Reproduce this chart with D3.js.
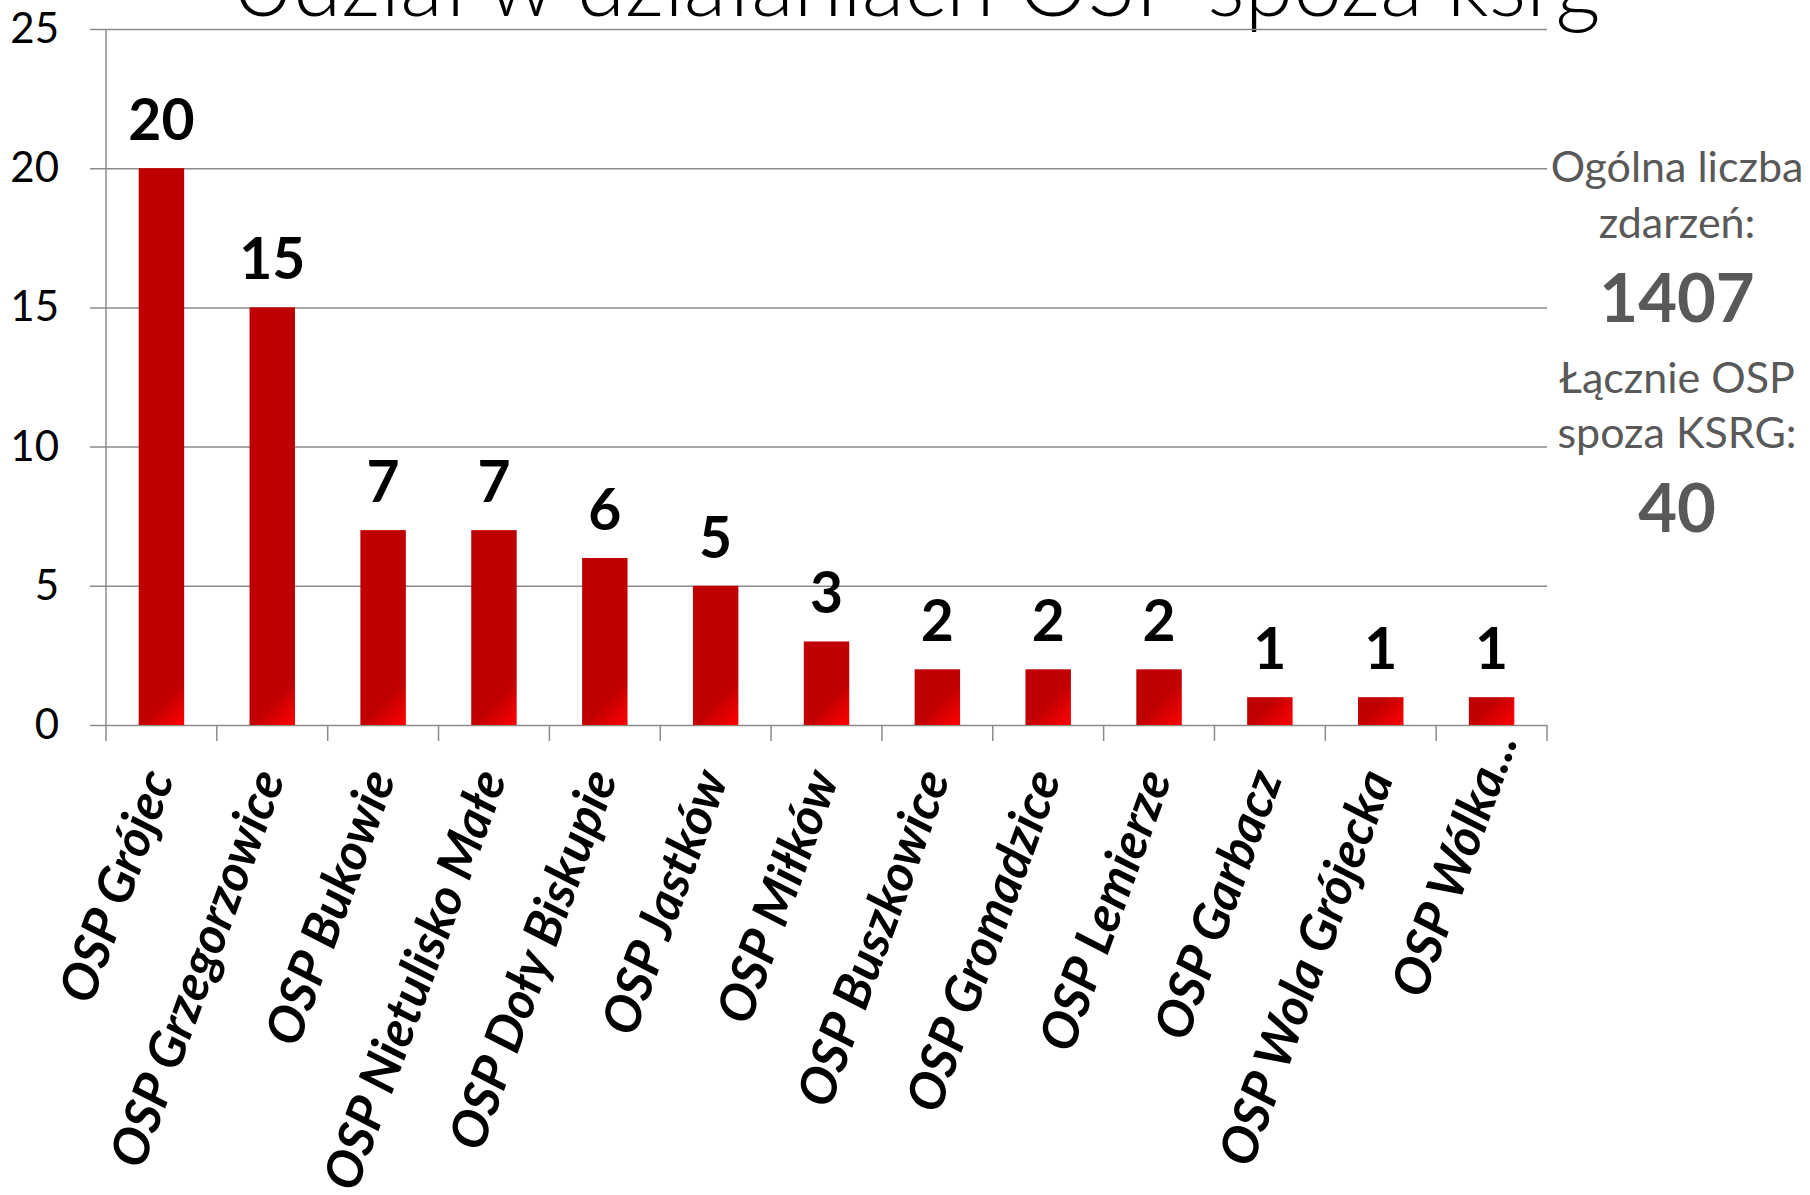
<!DOCTYPE html>
<html>
<head>
<meta charset="utf-8">
<script src="https://d3js.org/d3.v7.min.js"></script>
<style>
  html, body { margin: 0; padding: 0; background: #fff; }
  svg { display: block; }
</style>
</head>
<body>
<svg id="chart" width="1810" height="1195"></svg>
<script>
// data
const categories = ["OSP Grójec", "OSP Grzegorzowice", "OSP Bukowie", "OSP Nietulisko Małe",
  "OSP Doły Biskupie", "OSP Jastków", "OSP Miłków", "OSP Buszkowice", "OSP Gromadzice",
  "OSP Lemierze", "OSP Garbacz", "OSP Wola Grójecka", "OSP Wólka..."];
const values = [20, 15, 7, 7, 6, 5, 3, 2, 2, 2, 1, 1, 1];
const yTicks = [0, 5, 10, 15, 20, 25];
const titleText = "Udział w działaniach OSP spoza ksrg";
const totalLines = ["Ogólna liczba", "zdarzeń:"];
const totalValue = "1407";
const ospLines = ["Łącznie OSP", "spoza KSRG:"];
const ospValue = "40";

var svg = d3.select("#chart"),
    plotL = 106, plotR = 1547, plotT = 29, plotB = 725,
    gridColor = "#8a8a8a";

var x = d3.scaleBand().domain(categories).range([plotL, plotR]).padding(0);
var y = d3.scaleLinear().domain([0, 25]).range([plotB, plotT]);
var barW = x.bandwidth() * 0.41;

// title (cut off by the top edge like in the original)
svg.append("text")
   .attr("x", 231)
   .attr("y", 16)
   .attr("font-family", "Lato")
   .attr("font-weight", 300)
   .attr("font-size", "88px")
   .attr("fill", "#000")
   .text(titleText);

// gridlines + y tick labels
var yAxis = svg.append("g")
   .attr("transform", "translate(90,0)")
   .call(d3.axisLeft(y).tickValues(yTicks).tickSize(-(plotR - 90)).tickPadding(31));
yAxis.select(".domain").remove();
yAxis.selectAll(".tick line").attr("stroke", gridColor).attr("stroke-width", 1.5);
yAxis.selectAll(".tick text")
   .attr("font-family", "Lato")
   .attr("font-size", "42px")
   .attr("fill", "#000");

// y axis line
svg.append("line")
   .attr("x1", plotL).attr("x2", plotL)
   .attr("y1", plotT).attr("y2", plotB)
   .attr("stroke", gridColor).attr("stroke-width", 1.5);

// category tick marks below the axis
var bounds = categories.map(function (d) { return x(d); }).concat([plotR]);
svg.append("g").selectAll("line")
   .data(bounds)
   .enter()
   .append("line")
   .attr("x1", function (d) { return d; })
   .attr("x2", function (d) { return d; })
   .attr("y1", plotB)
   .attr("y2", plotB + 16)
   .attr("stroke", gridColor)
   .attr("stroke-width", 1.5);

// one gradient per bar, fixed size at the bar foot
var defs = svg.append("defs");
categories.forEach(function (d, i) {
  var x0 = x(d) + (x.bandwidth() - barW) / 2;
  var g = defs.append("linearGradient")
     .attr("id", "grad" + i)
     .attr("gradientUnits", "userSpaceOnUse")
     .attr("x1", x0).attr("y1", plotB - 45)
     .attr("x2", x0 + barW).attr("y2", plotB);
  g.append("stop").attr("offset", "0.5").attr("stop-color", "#c00000");
  g.append("stop").attr("offset", "1").attr("stop-color", "#ff0000");
});

svg.append("g").selectAll("rect")
   .data(values)
   .enter()
   .append("rect")
   .attr("x", function (d, i) { return x(categories[i]) + (x.bandwidth() - barW) / 2; })
   .attr("y", function (d) { return y(d); })
   .attr("width", barW)
   .attr("height", function (d) { return plotB - y(d); })
   .attr("fill", function (d, i) { return "url(#grad" + i + ")"; });

// value labels
svg.append("g").selectAll("text")
   .data(values)
   .enter()
   .append("text")
   .attr("x", function (d, i) { return x(categories[i]) + x.bandwidth() / 2; })
   .attr("y", function (d) { return y(d) - 28; })
   .attr("text-anchor", "middle")
   .attr("font-family", "Lato")
   .attr("font-weight", "bold")
   .attr("font-size", "57px")
   .attr("fill", "#000")
   .text(function (d) { return d; });

// rotated category labels
svg.append("g").selectAll("text")
   .data(categories)
   .enter()
   .append("text")
   .attr("transform", function (d) {
     return "translate(" + (x(d) + x.bandwidth() / 2 + 13) + ",778) rotate(-70)";
   })
   .attr("dx", function (d) { return d.slice(-3) === "..." ? 40 : 0; })
   .attr("text-anchor", "end")
   .attr("font-family", "Lato")
   .attr("font-weight", "bold")
   .attr("font-style", "italic")
   .attr("font-size", "51px")
   .attr("fill", "#000")
   .text(function (d) { return d; });

// side note on the right
var cx = 1677, grey = "#595959";
function note(txt, yy, size, weight) {
  svg.append("text")
     .attr("x", cx).attr("y", yy)
     .attr("text-anchor", "middle")
     .attr("font-family", "Lato")
     .attr("font-weight", weight)
     .attr("font-size", size)
     .attr("fill", grey)
     .text(txt);
}
note(totalLines[0], 182, "43px", "normal");
note(totalLines[1], 238, "43px", "normal");
note(totalValue, 322, "67px", "bold");
note(ospLines[0], 393, "43px", "normal");
note(ospLines[1], 448, "43px", "normal");
note(ospValue, 532, "67px", "bold");
</script>
</body>
</html>
